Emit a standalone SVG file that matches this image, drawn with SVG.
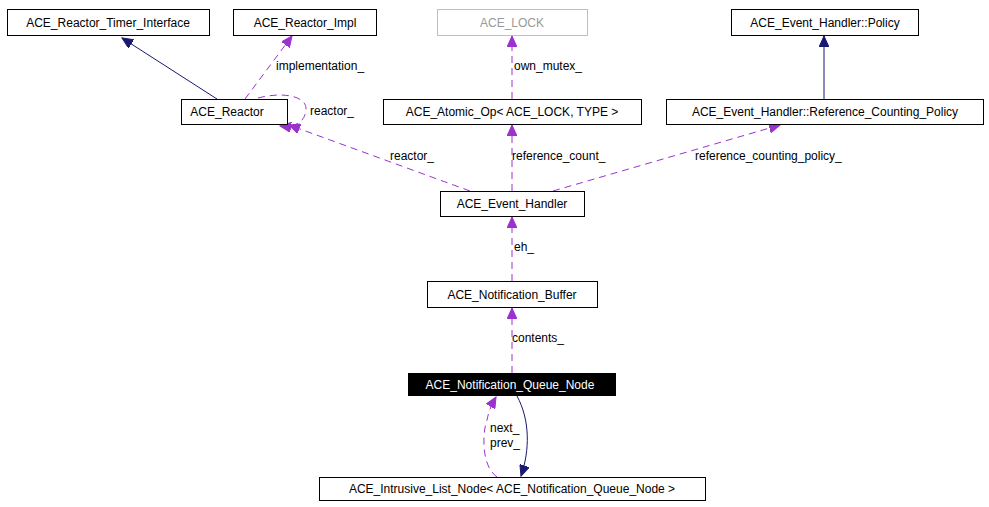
<svg xmlns="http://www.w3.org/2000/svg" width="989" height="507" viewBox="0 0 989 507">
<style>
text{font-family:"Liberation Sans",Arial,sans-serif;font-size:12px;fill:#000}
.b{fill:#fff;stroke:#000;stroke-width:1}
.c{text-anchor:middle}
.d{fill:none;stroke:#9a32cd;stroke-dasharray:7,5}
.s{fill:none;stroke:#191970}
</style>
<defs>
<marker id="mp" markerWidth="12" markerHeight="10" refX="11" refY="5" orient="auto" markerUnits="userSpaceOnUse"><path d="M0,0L11,5L0,10z" fill="#9a32cd" stroke="#9a32cd"/></marker>
<marker id="mn" markerWidth="12" markerHeight="10" refX="11" refY="5" orient="auto" markerUnits="userSpaceOnUse"><path d="M0,0L11,5L0,10z" fill="#191970" stroke="#191970"/></marker>
</defs>
<rect width="989" height="507" fill="#fff"/>
<g id="connectors">
<path class="s" d="M217,99L122,38" marker-end="url(#mn)"/>
<path class="d" d="M245,99L292,36" marker-end="url(#mp)"/>
<text x="276" y="70">implementation_</text>
<path class="d" d="M258,98C280,92 305,95 306,108C306,122 295,128 280,126" marker-end="url(#mp)"/>
<text x="310" y="115">reactor_</text>
<path class="d" d="M470,191L289,125" marker-end="url(#mp)"/>
<text x="390" y="160">reactor_</text>
<path class="d" d="M512,191L512,125" marker-end="url(#mp)"/>
<text x="512" y="160">reference_count_</text>
<path class="d" d="M553,191L780,125" marker-end="url(#mp)"/>
<text x="695" y="160">reference_counting_policy_</text>
<path class="d" d="M512,99L512,36" marker-end="url(#mp)"/>
<text x="514" y="70">own_mutex_</text>
<path class="s" d="M824,99L824,36" marker-end="url(#mn)"/>
<path class="d" d="M512,281L512,217" marker-end="url(#mp)"/>
<text x="514" y="251">eh_</text>
<path class="d" d="M512,373L512,308" marker-end="url(#mp)"/>
<text x="512" y="342">contents_</text>
<path class="s" d="M517,396C530,420 530,450 521,476" marker-end="url(#mn)"/>
<path class="d" d="M497,477C480,465 483,430 487,420C489,410 492,404 496,397" marker-end="url(#mp)"/>
<text x="490" y="432">next_</text>
<text x="490" y="447">prev_</text>
</g>
<g id="n1"><rect class="b" x="7.500" y="9.500" width="202" height="26"/><text class="c" x="108" y="27">ACE_Reactor_Timer_Interface</text></g>
<g id="n2"><rect class="b" x="233.500" y="9.500" width="143" height="26"/><text class="c" x="305" y="27">ACE_Reactor_Impl</text></g>
<g id="n3"><rect x="437.500" y="9.500" width="150" height="26" fill="#fff" stroke="#bfbfbf"/><text class="c" x="512" y="27" style="fill:#999">ACE_LOCK</text></g>
<g id="n4"><rect class="b" x="731.500" y="9.500" width="187" height="26"/><text class="c" x="825" y="27">ACE_Event_Handler::Policy</text></g>
<g id="n5"><rect class="b" x="181.500" y="99.500" width="106" height="25"/><text class="c" x="227" y="116">ACE_Reactor</text></g>
<g id="n6"><rect class="b" x="383.500" y="99.500" width="258" height="25"/><text class="c" x="512" y="116">ACE_Atomic_Op&lt; ACE_LOCK, TYPE &gt;</text></g>
<g id="n7"><rect class="b" x="666.500" y="99.500" width="317" height="25"/><text class="c" x="825" y="116">ACE_Event_Handler::Reference_Counting_Policy</text></g>
<g id="n8"><rect class="b" x="440.500" y="191.500" width="144" height="25"/><text class="c" x="512" y="208">ACE_Event_Handler</text></g>
<g id="n9"><rect class="b" x="427.500" y="281.500" width="170" height="26"/><text class="c" x="512" y="299">ACE_Notification_Buffer</text></g>
<g id="n10"><rect x="408" y="373" width="208" height="23" fill="#000"/><text class="c" x="510" y="389" style="fill:#fff">ACE_Notification_Queue_Node</text></g>
<g id="n11"><rect class="b" x="319.500" y="477.500" width="386" height="23"/><text class="c" x="512" y="493">ACE_Intrusive_List_Node&lt; ACE_Notification_Queue_Node &gt;</text></g>
</svg>
